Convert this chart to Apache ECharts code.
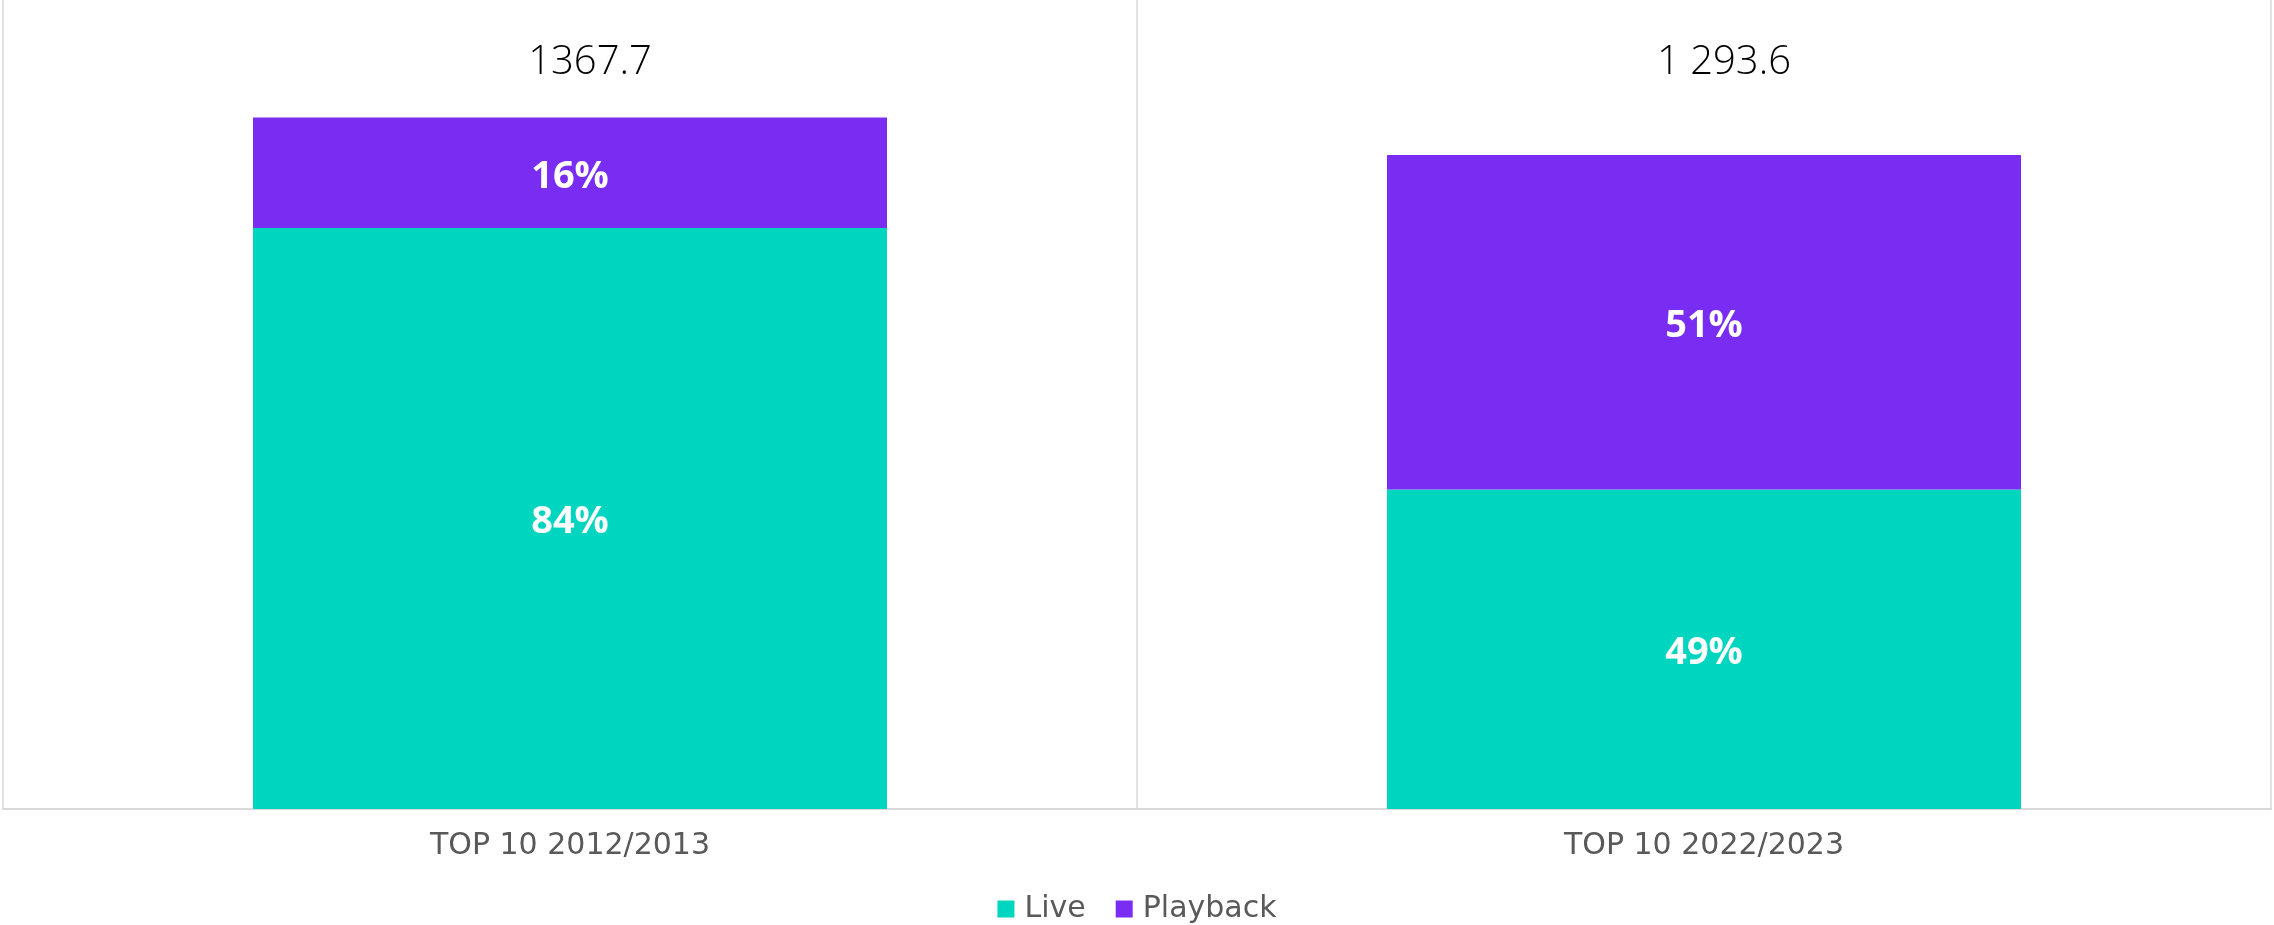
<!DOCTYPE html>
<html>
<head>
<meta charset="utf-8">
<script src="https://cdn.jsdelivr.net/npm/echarts@6/dist/echarts.min.js"></script>
<style>
  html, body { margin: 0; padding: 0; background: #ffffff; }
  #chart { width: 2274px; height: 925px; }
</style>
</head>
<body>
<div id="chart"></div>
<script>
// ---- Data ----
const categories = ['TOP 10 2012/2013', 'TOP 10 2022/2023'];
const totalLabels = ['1367.7', '1 293.6'];
const totals = [1367.7, 1293.6];
const liveValues = [1148.9, 632.0];
const playbackValues = [218.8, 661.6];
const seriesNames = ['Live', 'Playback'];

const COLOR_LIVE = '#00D6BF';
const COLOR_PLAYBACK = '#7A2DF2';
const GRID_COLOR = '#D9D9D9';
const TEXT_GRAY = '#595959';

const chart = echarts.init(document.getElementById('chart'), null, { renderer: 'canvas' });

function pctFormatter(p) {
  return Math.round(p.value / totals[p.dataIndex] * 100) + '%';
}

const pctLabel = {
  show: true,
  position: 'inside',
  offset: [0, 4],
  color: '#ffffff',
  fontFamily: 'Open Sans',
  fontWeight: 'bold',
  fontSize: 38,
  formatter: pctFormatter
};

const option = {
  backgroundColor: '#ffffff',
  animation: false,
  grid: { left: 3, right: 3, top: 0, bottom: 116 },
  legend: {
    data: seriesNames,
    top: 889,
    left: 'center',
    icon: 'rect',
    itemWidth: 17,
    itemHeight: 17,
    itemGap: 30,
    textStyle: {
      color: TEXT_GRAY,
      fontFamily: 'DejaVu Sans',
      fontSize: 30,
      lineHeight: 30,
      padding: [0, 0, 0, 5]
    }
  },
  xAxis: [
    {
      type: 'category',
      data: categories,
      position: 'bottom',
      axisLine: { show: true, lineStyle: { color: GRID_COLOR, width: 2 } },
      axisTick: { show: false },
      splitLine: { show: true, lineStyle: { color: GRID_COLOR, width: 1.5 } },
      axisLabel: {
        color: TEXT_GRAY,
        fontFamily: 'DejaVu Sans',
        fontSize: 30,
        margin: 37,
        verticalAlign: 'middle'
      }
    },
    {
      type: 'category',
      data: totalLabels,
      position: 'top',
      axisLine: { show: false },
      axisTick: { show: false },
      splitLine: { show: false },
      axisLabel: {
        inside: true,
        color: '#000000',
        fontFamily: 'Open Sans',
        fontWeight: 300,
        fontSize: 40,
        margin: 63,
        verticalAlign: 'middle',
        padding: [0, 0, 0, 40]
      }
    }
  ],
  yAxis: {
    type: 'value',
    min: 0,
    max: 1600,
    show: false,
    splitLine: { show: false }
  },
  series: [
    {
      name: seriesNames[0],
      type: 'bar',
      stack: 'total',
      barWidth: 634,
      data: liveValues,
      itemStyle: { color: COLOR_LIVE },
      label: pctLabel
    },
    {
      name: seriesNames[1],
      type: 'bar',
      stack: 'total',
      barWidth: 634,
      data: playbackValues,
      itemStyle: { color: COLOR_PLAYBACK },
      label: pctLabel
    }
  ]
};

chart.setOption(option);
</script>
</body>
</html>
